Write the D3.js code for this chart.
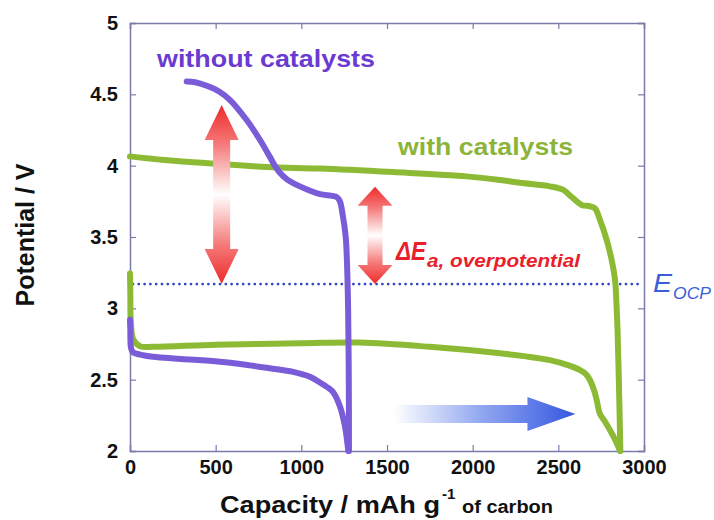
<!DOCTYPE html>
<html>
<head>
<meta charset="utf-8">
<script src="https://cdn.jsdelivr.net/npm/d3@7"></script>
<style>
  body { margin: 0; background: #fff; }
  svg { display: block; font-family: "Liberation Sans", Arial, sans-serif; }
</style>
</head>
<body>
<div id="chart"></div>
<script>
// capacity (mAh/g) , potential (V)
var noCatDischarge = [[0, 2.92], [2, 2.85], [5, 2.73], [15, 2.695], [60, 2.675], [134, 2.66], [300, 2.645],
  [525, 2.625], [700, 2.60], [817, 2.58], [952, 2.555], [1050, 2.52], [1109, 2.48], [1160, 2.44],
  [1187, 2.41], [1226, 2.31], [1255, 2.17], [1274, 2.0]];

var noCatCharge = [[1278, 2.0], [1277, 2.5], [1273, 3.0], [1267, 3.3], [1259, 3.5], [1242, 3.65],
  [1225, 3.75], [1206, 3.78], [1109, 3.80], [1040, 3.83], [973, 3.865], [920, 3.90], [875, 3.95],
  [845, 4.0], [817, 4.06], [759, 4.18], [681, 4.32], [584, 4.46], [520, 4.52], [448, 4.56],
  [380, 4.585], [331, 4.59]];

var catDischarge = [[0, 3.245], [2, 3.1], [5, 2.9], [20, 2.78], [58, 2.735], [134, 2.73], [500, 2.745],
  [1000, 2.755], [1342, 2.76], [1750, 2.73], [2119, 2.69], [2300, 2.665], [2451, 2.637], [2560, 2.60],
  [2627, 2.567], [2660, 2.54], [2685, 2.496], [2710, 2.42], [2724, 2.356], [2743, 2.26], [2770, 2.21],
  [2802, 2.145], [2835, 2.07], [2860, 2.0]];

var catCharge = [[2862, 2.0], [2855, 2.4], [2845, 2.87], [2840, 3.01], [2831, 3.2], [2811, 3.34],
  [2782, 3.48], [2743, 3.62], [2714, 3.70], [2685, 3.715], [2636, 3.725], [2578, 3.78], [2529, 3.83],
  [2451, 3.855], [2276, 3.88], [2159, 3.90], [1965, 3.925], [1537, 3.955], [1109, 3.98], [800, 3.99],
  [486, 4.015], [200, 4.04], [0, 4.065]];

var xTicks = [0, 500, 1000, 1500, 2000, 2500, 3000];
var yTicks = [2, 2.5, 3, 3.5, 4, 4.5, 5];
var eOcp = 3.17;

var svgWidth = 714, svgHeight = 520;
var margin = {top: 23, right: 70, bottom: 69, left: 130};
var width = svgWidth - margin.left - margin.right;   // 514
var height = svgHeight - margin.top - margin.bottom; // 428

var svg = d3.select("#chart").append("svg")
  .attr("width", svgWidth)
  .attr("height", svgHeight);

var defs = svg.append("defs");
var redGrad = defs.append("linearGradient").attr("id", "redGrad")
  .attr("x1", 0).attr("y1", 0).attr("x2", 0).attr("y2", 1);
redGrad.append("stop").attr("offset", "0").attr("stop-color", "#ee2a2a");
redGrad.append("stop").attr("offset", "0.22").attr("stop-color", "#f57a7a");
redGrad.append("stop").attr("offset", "0.5").attr("stop-color", "#ffffff");
redGrad.append("stop").attr("offset", "0.78").attr("stop-color", "#f57a7a");
redGrad.append("stop").attr("offset", "1").attr("stop-color", "#ee2a2a");

var blueGrad = defs.append("linearGradient").attr("id", "blueGrad")
  .attr("x1", 0).attr("y1", 0).attr("x2", 1).attr("y2", 0);
blueGrad.append("stop").attr("offset", "0").attr("stop-color", "#ffffff");
blueGrad.append("stop").attr("offset", "0.5").attr("stop-color", "#8ea4f0");
blueGrad.append("stop").attr("offset", "1").attr("stop-color", "#3457e0");

var chartGroup = svg.append("g")
  .attr("transform", `translate(${margin.left}, ${margin.top})`);

var x = d3.scaleLinear().domain([0, 3000]).range([0, width]);
var y = d3.scaleLinear().domain([2, 5]).range([height, 0]);

var frameColor = "#7b7bab";

// axes, ticks pointing inward
var bottomAxis = d3.axisBottom(x).tickValues(xTicks).tickSize(-6).tickPadding(8.5).tickFormat(d3.format("d"));
var leftAxis = d3.axisLeft(y).tickValues(yTicks).tickSize(-6).tickPadding(12).tickFormat(d => d);
var topAxis = d3.axisTop(x).tickValues(xTicks).tickSize(-6).tickFormat("");
var rightAxis = d3.axisRight(y).tickValues(yTicks).tickSize(-6).tickFormat("");

function styleAxis(g) {
  g.select(".domain").attr("stroke", frameColor).attr("stroke-width", 1.5);
  g.selectAll(".tick line").attr("stroke", frameColor).attr("stroke-width", 1.2);
  g.selectAll(".tick text").attr("fill", "#111").attr("font-size", 20).attr("font-weight", "bold")
    .attr("font-family", "'Liberation Sans', Arial, sans-serif");
}

chartGroup.append("g").attr("transform", `translate(0, ${height})`).call(bottomAxis).call(styleAxis);
chartGroup.append("g").call(leftAxis).call(styleAxis);
chartGroup.append("g").call(topAxis).call(styleAxis);
chartGroup.append("g").attr("transform", `translate(${width}, 0)`).call(rightAxis).call(styleAxis);

// E_OCP dotted line
chartGroup.append("line")
  .attr("x1", x(0) + 3).attr("x2", width - 2)
  .attr("y1", y(eOcp)).attr("y2", y(eOcp))
  .attr("stroke", "#3348c4").attr("stroke-width", 2.8)
  .attr("stroke-linecap", "round").attr("stroke-dasharray", "0,5.8");

// curves
var line = d3.line()
  .x(d => x(d[0]))
  .y(d => y(d[1]))
  .curve(d3.curveCatmullRom.alpha(0.5));

var green = "#8dba35", purple = "#7b5cd8";

[catDischarge, catCharge].forEach(function (data) {
  chartGroup.append("path").datum(data)
    .attr("d", line).attr("fill", "none")
    .attr("stroke", green).attr("stroke-width", 6)
    .attr("stroke-linejoin", "round").attr("stroke-linecap", "round");
});
[noCatDischarge, noCatCharge].forEach(function (data) {
  chartGroup.append("path").datum(data)
    .attr("d", line).attr("fill", "none")
    .attr("stroke", purple).attr("stroke-width", 6)
    .attr("stroke-linejoin", "round").attr("stroke-linecap", "round");
});

// double headed red arrows
function doubleArrow(cx, yTop, yBot, headW, headH, shaftW) {
  var p = d3.path();
  p.moveTo(cx, yTop);
  p.lineTo(cx + headW / 2, yTop + headH);
  p.lineTo(cx + shaftW / 2, yTop + headH);
  p.lineTo(cx + shaftW / 2, yBot - headH);
  p.lineTo(cx + headW / 2, yBot - headH);
  p.lineTo(cx, yBot);
  p.lineTo(cx - headW / 2, yBot - headH);
  p.lineTo(cx - shaftW / 2, yBot - headH);
  p.lineTo(cx - shaftW / 2, yTop + headH);
  p.lineTo(cx - headW / 2, yTop + headH);
  p.closePath();
  chartGroup.append("path").attr("d", p.toString()).attr("fill", "url(#redGrad)");
}
doubleArrow(x(535), y(4.425), y(eOcp), 34, 35, 17);
doubleArrow(x(1430), y(3.853), y(eOcp), 35, 19, 15);

// blue arrow
(function () {
  var x0 = x(1537), x1 = x(2600), cy = y(2.26);
  var p = d3.path();
  p.moveTo(x0, cy - 9);
  p.lineTo(x1 - 48, cy - 9);
  p.lineTo(x1 - 48, cy - 17);
  p.lineTo(x1, cy);
  p.lineTo(x1 - 48, cy + 17);
  p.lineTo(x1 - 48, cy + 9);
  p.lineTo(x0, cy + 9);
  p.closePath();
  chartGroup.append("path").attr("d", p.toString()).attr("fill", "url(#blueGrad)");
})();

// labels on the chart
svg.append("text").attr("x", 157).attr("y", 67)
  .attr("font-size", 24).attr("font-weight", "bold").attr("fill", "#6a3bd0")
  .attr("textLength", 218).attr("lengthAdjust", "spacingAndGlyphs")
  .text("without catalysts");

svg.append("text").attr("x", 398).attr("y", 155)
  .attr("font-size", 24).attr("font-weight", "bold").attr("fill", "#8cb43a")
  .attr("textLength", 175).attr("lengthAdjust", "spacingAndGlyphs")
  .text("with catalysts");

svg.append("text").attr("x", 396).attr("y", 260)
  .attr("font-size", 26).attr("font-style", "italic").attr("font-weight", "bold").attr("fill", "#e8202a")
  .attr("textLength", 30).attr("lengthAdjust", "spacingAndGlyphs")
  .text("ΔE");
svg.append("text").attr("x", 427).attr("y", 267)
  .attr("font-size", 18).attr("font-style", "italic").attr("font-weight", "bold").attr("fill", "#e8202a")
  .attr("textLength", 153).attr("lengthAdjust", "spacingAndGlyphs")
  .text("a, overpotential");

svg.append("text").attr("x", 653).attr("y", 292)
  .attr("font-size", 25).attr("font-style", "italic").attr("fill", "#3a5fd8")
  .attr("textLength", 19).attr("lengthAdjust", "spacingAndGlyphs")
  .text("E");
svg.append("text").attr("x", 673).attr("y", 299)
  .attr("font-size", 16).attr("font-style", "italic").attr("fill", "#3a5fd8")
  .attr("textLength", 38).attr("lengthAdjust", "spacingAndGlyphs")
  .text("OCP");

// axis titles
svg.append("text")
  .attr("transform", "translate(34, 235) rotate(-90)")
  .attr("text-anchor", "middle")
  .attr("font-size", 25).attr("font-weight", "bold").attr("fill", "#111")
  .text("Potential / V");

var xTitle = svg.append("text").attr("x", 220).attr("y", 513)
  .attr("font-weight", "bold").attr("fill", "#111");
xTitle.append("tspan").attr("font-size", 24)
  .attr("textLength", 220).attr("lengthAdjust", "spacingAndGlyphs")
  .text("Capacity / mAh g");
xTitle.append("tspan").attr("font-size", 15).attr("dx", 2).attr("dy", -14).text("-1");
xTitle.append("tspan").attr("x", 462).attr("y", 513).attr("font-size", 18)
  .attr("textLength", 91).attr("lengthAdjust", "spacingAndGlyphs")
  .text("of carbon");
</script>
</body>
</html>
